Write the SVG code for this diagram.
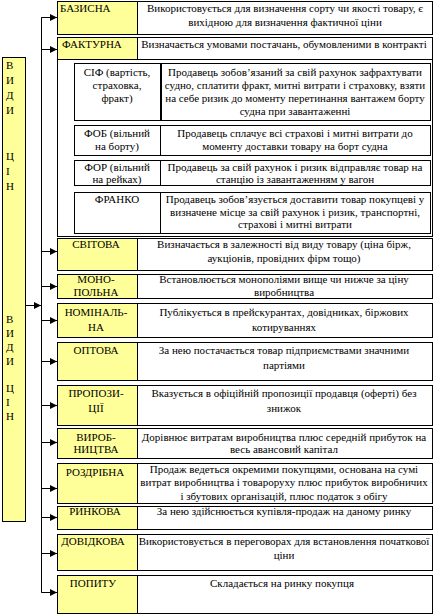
<svg xmlns="http://www.w3.org/2000/svg" width="434" height="615" viewBox="0 0 434 615" font-family="'Liberation Serif', 'Times New Roman', serif">
<style>
.y{fill:#FFFF99;stroke:#000;stroke-width:1}
.w{fill:#FFFFFF;stroke:#000;stroke-width:1}
.ln{stroke:#000;stroke-width:1;fill:none}
text{font-family:'Liberation Serif','Times New Roman',serif;font-size:11px;fill:#000}
.c{text-anchor:middle}
</style>
<defs>
<marker id="ah" markerWidth="7" markerHeight="7" refX="7" refY="3.5" orient="auto" markerUnits="userSpaceOnUse">
<path d="M0,0 L7,3.5 L0,7 Z" fill="#000"/>
</marker>
</defs>
<rect width="434" height="615" fill="#fff"/>

<g id="connectors">
<path class="ln" d="M57.5,17.5 H41.5 V592.5 H57.5"/>
<path class="ln" d="M41.5,17.5 H57" marker-end="url(#ah)"/>
<path class="ln" d="M41.5,49.5 H57" marker-end="url(#ah)"/>
<path class="ln" d="M41.5,251.5 H57" marker-end="url(#ah)"/>
<path class="ln" d="M41.5,286.5 H57" marker-end="url(#ah)"/>
<path class="ln" d="M41.5,320.5 H57" marker-end="url(#ah)"/>
<path class="ln" d="M41.5,361.5 H57" marker-end="url(#ah)"/>
<path class="ln" d="M41.5,405.5 H57" marker-end="url(#ah)"/>
<path class="ln" d="M41.5,442.5 H57" marker-end="url(#ah)"/>
<path class="ln" d="M41.5,488.5 H57" marker-end="url(#ah)"/>
<path class="ln" d="M41.5,517.5 H57" marker-end="url(#ah)"/>
<path class="ln" d="M41.5,553.5 H57" marker-end="url(#ah)"/>
<path class="ln" d="M41.5,592.5 H57" marker-end="url(#ah)"/>
<path class="ln" d="M25.5,305.5 H41" marker-end="url(#ah)"/>
<path class="ln" d="M57.5,89.5 H74" marker-end="url(#ah)"/>
<path class="ln" d="M57.5,140.5 H74" marker-end="url(#ah)"/>
<path class="ln" d="M57.5,174.5 H74" marker-end="url(#ah)"/>
<path class="ln" d="M57.5,214.5 H74" marker-end="url(#ah)"/>
</g>

<g id="vydy-tsin">
<rect class="y" x="2.5" y="57.5" width="23" height="464"/>
<text x="6" y="69">В</text>
<text x="6" y="84">И</text>
<text x="6" y="99">Д</text>
<text x="6" y="114">И</text>
<text x="6" y="160">Ц</text>
<text x="6" y="175">І</text>
<text x="6" y="190">Н</text>
<text x="6" y="323">В</text>
<text x="6" y="337">И</text>
<text x="6" y="351">Д</text>
<text x="6" y="365">И</text>
<text x="6" y="392">Ц</text>
<text x="6" y="406">І</text>
<text x="6" y="420">Н</text>
</g>

<g id="bazysna">
<rect class="y" x="57.5" y="1.5" width="80" height="33"/>
<rect class="w" x="137.5" y="1.5" width="295" height="33"/>
<text x="60" y="12">БАЗИСНА</text>
<text class="c" x="285" y="12">Використовується для визначення сорту чи якості товару, є</text>
<text class="c" x="285" y="26">вихідною для визначення фактичної ціни</text>
</g>

<g id="fakturna">
<rect class="w" x="57.5" y="37.5" width="375" height="199"/>
<rect class="y" x="57.5" y="37.5" width="80" height="22"/>
<rect class="w" x="137.5" y="37.5" width="295" height="22"/>
<text x="62" y="48">ФАКТУРНА</text>
<text class="c" x="284" y="48">Визначається умовами постачань, обумовленими в контракті</text>
</g>

<g id="cif">
<rect class="w" x="74.5" y="63.5" width="356" height="57"/>
<line x1="161" y1="63.5" x2="161" y2="120.5" stroke="#000" stroke-width="2"/>
<text class="c" x="117" y="76">СІФ (вартість,</text>
<text class="c" x="117" y="89">страховка,</text>
<text class="c" x="117" y="102">фракт)</text>
<text class="c" x="295" y="76">Продавець зобов’язаний за свій рахунок зафрахтувати</text>
<text class="c" x="295" y="89">судно, сплатити фракт, митні витрати і страховку, взяти</text>
<text class="c" x="295" y="102">на себе ризик до моменту перетинання вантажем борту</text>
<text class="c" x="295" y="115">судна при завантаженні</text>
</g>

<g id="fob">
<rect class="w" x="74.5" y="125.5" width="356" height="30"/>
<line class="ln" x1="160.5" y1="125.5" x2="160.5" y2="155.5"/>
<text class="c" x="117" y="137">ФОБ (вільний</text>
<text class="c" x="117" y="150">на борту)</text>
<text class="c" x="295" y="137">Продавець сплачує всі страхові і митні витрати до</text>
<text class="c" x="295" y="150">моменту доставки товару на борт судна</text>
</g>

<g id="for">
<rect class="w" x="74.5" y="160.5" width="356" height="25"/>
<line class="ln" x1="160.5" y1="160.5" x2="160.5" y2="185.5"/>
<text class="c" x="117" y="171">ФОР (вільний</text>
<text class="c" x="117" y="183">на рейках)</text>
<text class="c" x="295" y="171">Продавець за свій рахунок і ризик відправляє товар на</text>
<text class="c" x="295" y="183">станцію із завантаженням у вагон</text>
</g>

<g id="franko">
<rect class="w" x="74.5" y="192.5" width="356" height="41"/>
<line class="ln" x1="160.5" y1="192.5" x2="160.5" y2="233.5"/>
<text class="c" x="117" y="203">ФРАНКО</text>
<text class="c" x="295" y="203">Продавець зобов’язується доставити товар покупцеві у</text>
<text class="c" x="295" y="216">визначене місце за свій рахунок і ризик, транспортні,</text>
<text class="c" x="295" y="228">страхові і митні витрати</text>
</g>

<g id="svitova">
<rect class="y" x="57.5" y="238.5" width="80" height="32"/>
<rect class="w" x="137.5" y="238.5" width="295" height="32"/>
<text class="c" x="96" y="248">СВІТОВА</text>
<text class="c" x="284" y="248">Визначається в залежності від виду товару (ціна бірж,</text>
<text class="c" x="284" y="262">аукціонів, провідних фірм тощо)</text>
</g>

<g id="monopolna">
<rect class="y" x="57.5" y="274.5" width="80" height="24"/>
<rect class="w" x="137.5" y="274.5" width="295" height="24"/>
<text class="c" x="96" y="283">МОНО-</text>
<text class="c" x="96" y="296">ПОЛЬНА</text>
<text class="c" x="284" y="283">Встановлюється монополіями вище чи нижче за ціну</text>
<text class="c" x="284" y="296">виробництва</text>
</g>

<g id="nominalna">
<rect class="y" x="57.5" y="303.5" width="80" height="34"/>
<rect class="w" x="137.5" y="303.5" width="295" height="34"/>
<text class="c" x="96" y="316">НОМІНАЛЬ-</text>
<text class="c" x="96" y="331">НА</text>
<text class="c" x="284" y="316">Публікується в прейскурантах, довідниках, біржових</text>
<text class="c" x="284" y="331">котируваннях</text>
</g>

<g id="optova">
<rect class="y" x="57.5" y="342.5" width="80" height="38"/>
<rect class="w" x="137.5" y="342.5" width="295" height="38"/>
<text class="c" x="96" y="354">ОПТОВА</text>
<text class="c" x="284" y="354">За нею постачається товар підприємствами значними</text>
<text class="c" x="284" y="369">партіями</text>
</g>

<g id="propozytsii">
<rect class="y" x="57.5" y="385.5" width="80" height="40"/>
<rect class="w" x="137.5" y="385.5" width="295" height="40"/>
<text class="c" x="96" y="397">ПРОПОЗИ-</text>
<text class="c" x="96" y="412">ЦІЇ</text>
<text class="c" x="284" y="397">Вказується в офіційній пропозиції продавця (оферті) без</text>
<text class="c" x="284" y="412">знижок</text>
</g>

<g id="vyrobnytstva">
<rect class="y" x="57.5" y="428.5" width="80" height="30"/>
<rect class="w" x="137.5" y="428.5" width="295" height="30"/>
<text class="c" x="96" y="441">ВИРОБ-</text>
<text class="c" x="96" y="453">НИЦТВА</text>
<text class="c" x="284" y="441">Дорівнює витратам виробництва плюс середній прибуток на</text>
<text class="c" x="284" y="453">весь авансовий капітал</text>
</g>

<g id="rozdribna">
<rect class="y" x="57.5" y="463.5" width="80" height="40"/>
<rect class="w" x="137.5" y="463.5" width="295" height="40"/>
<text class="c" x="95" y="476">РОЗДРІБНА</text>
<text class="c" x="284" y="473">Продаж ведеться окремими покупцями, основана на сумі</text>
<text class="c" x="284" y="486">витрат виробництва і товароруху плюс прибуток виробничих</text>
<text class="c" x="284" y="500">і збутових організацій, плюс податок з обігу</text>
</g>

<g id="rynkova">
<rect class="y" x="57.5" y="506.5" width="80" height="23"/>
<rect class="w" x="137.5" y="506.5" width="295" height="23"/>
<text class="c" x="95" y="515">РИНКОВА</text>
<text class="c" x="284" y="515">За нею здійснюється купівля-продаж на даному ринку</text>
</g>

<g id="dovidkova">
<rect class="y" x="57.5" y="534.5" width="80" height="36"/>
<rect class="w" x="137.5" y="534.5" width="295" height="36"/>
<text class="c" x="93" y="545">ДОВІДКОВА</text>
<text class="c" x="284" y="545">Використовується в переговорах для встановлення початкової</text>
<text class="c" x="284" y="559">ціни</text>
</g>

<g id="popytu">
<rect class="y" x="57.5" y="575.5" width="80" height="38"/>
<rect class="w" x="137.5" y="575.5" width="295" height="38"/>
<text class="c" x="93" y="587">ПОПИТУ</text>
<text class="c" x="282" y="587">Складається на ринку покупця</text>
</g>
</svg>
